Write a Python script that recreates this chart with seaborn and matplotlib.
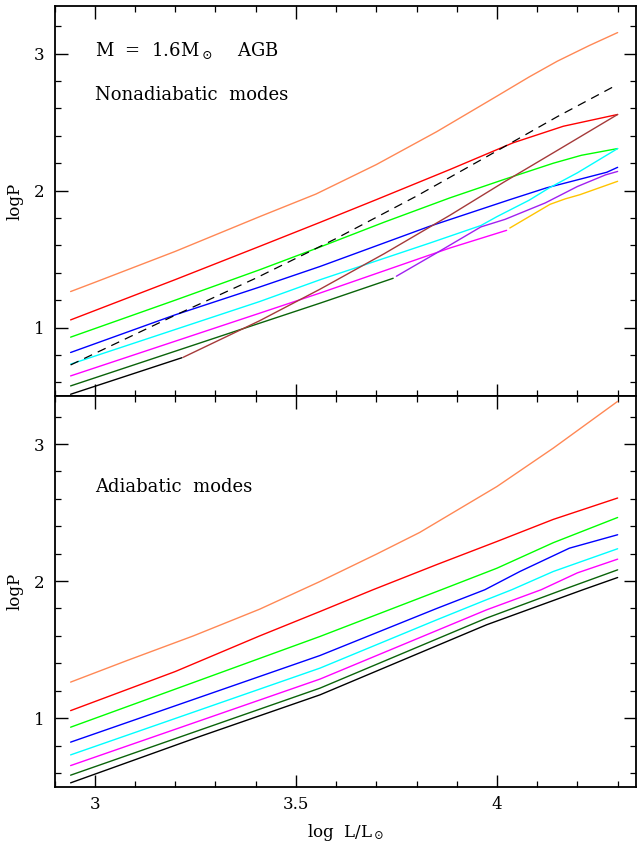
import numpy as np
import pandas as pd
import matplotlib
matplotlib.use("Agg")
import matplotlib.pyplot as plt
import seaborn as sns
from matplotlib.ticker import MultipleLocator

# ---------------- Nonadiabatic modes (top panel) ----------------
na_orange_x = [2.94, 3.0, 3.2, 3.41, 3.55, 3.7, 3.85, 4.0, 4.08, 4.15, 4.23, 4.3]
na_orange_y = [1.263, 1.33, 1.556, 1.81, 1.975, 2.19, 2.43, 2.69, 2.83, 2.945, 3.06, 3.154]
na_red_x = [2.94, 3.2, 3.41, 3.56, 3.7, 3.883, 4.04, 4.165, 4.3]
na_red_y = [1.056, 1.35, 1.593, 1.768, 1.934, 2.154, 2.349, 2.47, 2.556]
na_green_x = [2.94, 3.2, 3.41, 3.56, 3.72, 3.883, 4.016, 4.14, 4.21, 4.3]
na_green_y = [0.93, 1.20, 1.422, 1.588, 1.77, 1.947, 2.08, 2.20, 2.258, 2.307]
na_blue_x = [2.94, 3.2, 3.41, 3.56, 3.833, 4.032, 4.123, 4.273, 4.3]
na_blue_y = [0.818, 1.093, 1.296, 1.446, 1.74, 1.934, 2.02, 2.134, 2.17]
na_cyan_x = [2.94, 3.41, 3.56, 3.833, 3.96, 4.0, 4.08, 4.13, 4.2, 4.3]
na_cyan_y = [0.733, 1.19, 1.349, 1.617, 1.745, 1.81, 1.93, 2.02, 2.13, 2.307]
na_magenta_x = [2.94, 3.41, 3.56, 3.883, 4.024]
na_magenta_y = [0.647, 1.105, 1.252, 1.581, 1.71]
na_dkgreen_x = [2.94, 3.41, 3.56, 3.742]
na_dkgreen_y = [0.574, 1.032, 1.178, 1.36]
na_black_x = [2.94, 3.217]
na_black_y = [0.513, 0.78]
na_brown_x = [3.22, 3.41, 3.56, 3.72, 3.883, 4.016, 4.148, 4.3]
na_brown_y = [0.783, 1.05, 1.28, 1.54, 1.82, 2.06, 2.29, 2.556]
na_purple_x = [3.75, 3.85, 3.96, 4.02, 4.12, 4.2, 4.27, 4.3]
na_purple_y = [1.375, 1.545, 1.735, 1.79, 1.91, 2.03, 2.115, 2.14]
na_gold_x = [4.032, 4.132, 4.17, 4.206, 4.3]
na_gold_y = [1.727, 1.90, 1.94, 1.97, 2.068]
na_dashed_x = [2.94, 3.2, 3.4, 3.6, 3.8, 4.0, 4.15, 4.3]
na_dashed_y = [0.727, 1.09, 1.36, 1.65, 1.96, 2.29, 2.54, 2.775]

# ---------------- Adiabatic modes (bottom panel) ----------------
ad_orange_x = [2.94, 3.08, 3.245, 3.41, 3.56, 3.7, 3.808, 4.0, 4.14, 4.3]
ad_orange_y = [1.263, 1.42, 1.60, 1.795, 1.997, 2.196, 2.355, 2.69, 2.97, 3.311]
ad_red_x = [2.94, 3.2, 3.41, 3.56, 3.692, 3.85, 4.0, 4.14, 4.3]
ad_red_y = [1.055, 1.34, 1.60, 1.778, 1.937, 2.12, 2.289, 2.45, 2.606]
ad_green_x = [2.94, 3.56, 3.862, 4.0, 4.14, 4.3]
ad_green_y = [0.934, 1.596, 1.937, 2.094, 2.28, 2.464]
ad_blue_x = [2.94, 3.56, 3.85, 3.97, 4.057, 4.18, 4.3]
ad_blue_y = [0.825, 1.457, 1.80, 1.937, 2.07, 2.24, 2.338]
ad_cyan_x = [2.94, 3.56, 3.85, 3.974, 4.037, 4.14, 4.3]
ad_cyan_y = [0.732, 1.365, 1.717, 1.864, 1.937, 2.07, 2.236]
ad_magenta_x = [2.94, 3.56, 3.974, 4.11, 4.2, 4.3]
ad_magenta_y = [0.654, 1.285, 1.79, 1.937, 2.06, 2.16]
ad_dkgreen_x = [2.94, 3.56, 3.974, 4.164, 4.3]
ad_dkgreen_y = [0.584, 1.219, 1.73, 1.937, 2.082]
ad_black_x = [2.94, 3.261, 3.56, 3.974, 4.214, 4.3]
ad_black_y = [0.528, 0.866, 1.17, 1.681, 1.937, 2.026]

COL = {"orange": "#FF8855", "red": "#FF0000", "green": "#00FF00", "blue": "#0000FF",
       "cyan": "#00FFFF", "magenta": "#FF00FF", "dkgreen": "#0A640A", "black": "#000000",
       "brown": "#A53A3A", "purple": "#A020F0", "gold": "#FFC400", "dashed": "#000000"}

top_curves = [("orange", na_orange_x, na_orange_y), ("red", na_red_x, na_red_y),
              ("green", na_green_x, na_green_y), ("blue", na_blue_x, na_blue_y),
              ("cyan", na_cyan_x, na_cyan_y), ("magenta", na_magenta_x, na_magenta_y),
              ("dkgreen", na_dkgreen_x, na_dkgreen_y), ("black", na_black_x, na_black_y),
              ("brown", na_brown_x, na_brown_y), ("purple", na_purple_x, na_purple_y),
              ("gold", na_gold_x, na_gold_y), ("dashed", na_dashed_x, na_dashed_y)]
bot_curves = [("orange", ad_orange_x, ad_orange_y), ("red", ad_red_x, ad_red_y),
              ("green", ad_green_x, ad_green_y), ("blue", ad_blue_x, ad_blue_y),
              ("cyan", ad_cyan_x, ad_cyan_y), ("magenta", ad_magenta_x, ad_magenta_y),
              ("dkgreen", ad_dkgreen_x, ad_dkgreen_y), ("black", ad_black_x, ad_black_y)]

sns.set_theme(style="ticks")
plt.rcParams.update({
    "font.family": ["DejaVu Serif"],
    "mathtext.fontset": "dejavuserif",
    "text.color": "black",
    "axes.labelcolor": "black",
    "axes.linewidth": 1.3,
    "xtick.direction": "in", "ytick.direction": "in",
    "xtick.top": True, "ytick.right": True,
    "xtick.major.size": 9, "xtick.minor.size": 4.5,
    "ytick.major.size": 9, "ytick.minor.size": 4.5,
    "xtick.major.width": 1.0, "xtick.minor.width": 0.9,
    "ytick.major.width": 1.0, "ytick.minor.width": 0.9,
    "xtick.color": "black", "ytick.color": "black",
    "xtick.labelcolor": "black", "ytick.labelcolor": "black",
    "axes.edgecolor": "black",
})

fig = plt.figure(figsize=(6.37, 8.43), dpi=100)
ax1 = fig.add_axes([0.0856, 0.5302, 0.9124, 0.4630])
ax2 = fig.add_axes([0.0856, 0.0668, 0.9124, 0.4634])

def draw(ax, curves):
    for name, xs, ys in curves:
        df = pd.DataFrame({"logL": xs, "logP": ys})
        if name == "dashed":
            sns.lineplot(data=df, x="logL", y="logP", ax=ax, color=COL[name],
                         lw=0.9, sort=False, estimator=None, dashes=False,
                         linestyle=(0, (7, 5)))
        else:
            sns.lineplot(data=df, x="logL", y="logP", ax=ax, color=COL[name],
                         lw=1.0, sort=False, estimator=None)

draw(ax1, top_curves)
draw(ax2, bot_curves)

for ax in (ax1, ax2):
    ax.set_xlim(2.9, 4.345)
    ax.set_ylim(0.5, 3.35)
    ax.xaxis.set_major_locator(MultipleLocator(0.5))
    ax.xaxis.set_minor_locator(MultipleLocator(0.1))
    ax.yaxis.set_major_locator(MultipleLocator(1))
    ax.yaxis.set_minor_locator(MultipleLocator(0.2))
    ax.tick_params(which="both", top=True, right=True, direction="in")
    ax.tick_params(axis="both", which="major", labelsize=12, pad=7)
    ax.set_ylabel("logP", fontsize=12, color="black")
    ax.yaxis.set_label_coords(-0.054, 0.5)
    ax.set_xticks([3, 3.5, 4])
    ax.set_xticklabels(["3", "3.5", "4"])
    ax.set_yticks([1, 2, 3])
    ax.set_yticklabels(["1", "2", "3"])

ax1.set_xlabel("")
ax1.tick_params(axis="x", labelbottom=False)
ax2.set_xlabel(r"log  L/L$_\odot$", fontsize=12, labelpad=6, color="black")

ax1.text(3.0, 3.02, r"M  =  1.6M$_\odot$    AGB", fontsize=13, ha="left", va="center", color="black")
ax1.text(3.0, 2.695, "Nonadiabatic  modes", fontsize=13, ha="left", va="center", color="black")
ax2.text(3.0, 2.69, "Adiabatic  modes", fontsize=13, ha="left", va="center", color="black")

fig.savefig("out.png", dpi=100)
